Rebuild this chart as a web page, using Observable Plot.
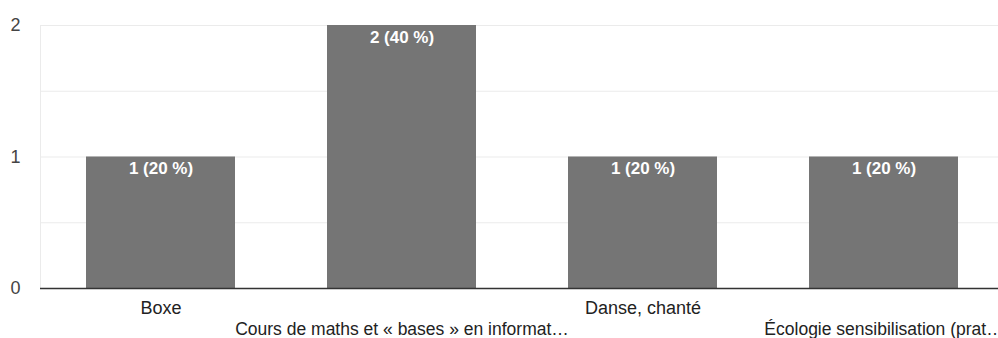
<!DOCTYPE html>
<html>
<head>
<meta charset="utf-8">
<script src="https://cdn.jsdelivr.net/npm/d3@7"></script>
<script src="https://cdn.jsdelivr.net/npm/@observablehq/plot@0.6"></script>
<style>
  html, body { margin: 0; padding: 0; background: #fff; }
</style>
</head>
<body>
<div id="chart"></div>
<script>
const categories = [
  "Boxe",
  "Cours de maths et « bases » en informat…",
  "Danse, chanté",
  "Écologie sensibilisation (prat…"
];
const counts = [1, 2, 1, 1];
const yTicks = [0, 1, 2];
const gridTicks = [0.5, 1, 1.5, 2];

const total = d3.sum(counts);
const data = categories.map((c, i) => ({
  category: c,
  count: counts[i],
  label: `${counts[i]} (${Math.round(counts[i] / total * 100)} %)`
}));

const chart = Plot.plot({
  width: 998,
  height: 338,
  marginTop: 25,
  marginBottom: 50,
  marginLeft: 40,
  marginRight: -6,
  style: {fontFamily: "Arial, 'Liberation Sans', sans-serif", fontSize: "18px", background: "#fff", color: "#222"},
  x: {domain: categories, paddingInner: 0.382, paddingOuter: 0.191, axis: null},
  y: {domain: [0, 2], axis: null},
  marks: [
    Plot.frame({stroke: "#ebebeb", strokeOpacity: 1}),
    Plot.gridY(gridTicks, {stroke: "#ebebeb", strokeOpacity: 1}),
    Plot.barY(data, {x: "category", y: "count", fill: "#757575"}),
    Plot.text(data, {x: "category", y: "count", text: "label", dy: 12, fill: "#fff", fontWeight: "bold", fontSize: 17}),
    Plot.ruleY([0], {stroke: "#333", strokeWidth: 1.5}),
    Plot.axisY(yTicks, {tickSize: 0, tickPadding: 20, fill: "#444", fontSize: 18, tickFormat: "d", label: null}),
    Plot.axisX(categories.filter((d, i) => i % 2 === 0), {tickSize: 0, tickPadding: 13, fill: "#222", fontSize: 18, label: null}),
    Plot.axisX(categories.filter((d, i) => i % 2 === 1), {tickSize: 0, tickPadding: 34, fill: "#222", fontSize: 17.5, label: null, textOverflow: null})
  ]
});
document.getElementById("chart").appendChild(chart);
</script>
</body>
</html>
